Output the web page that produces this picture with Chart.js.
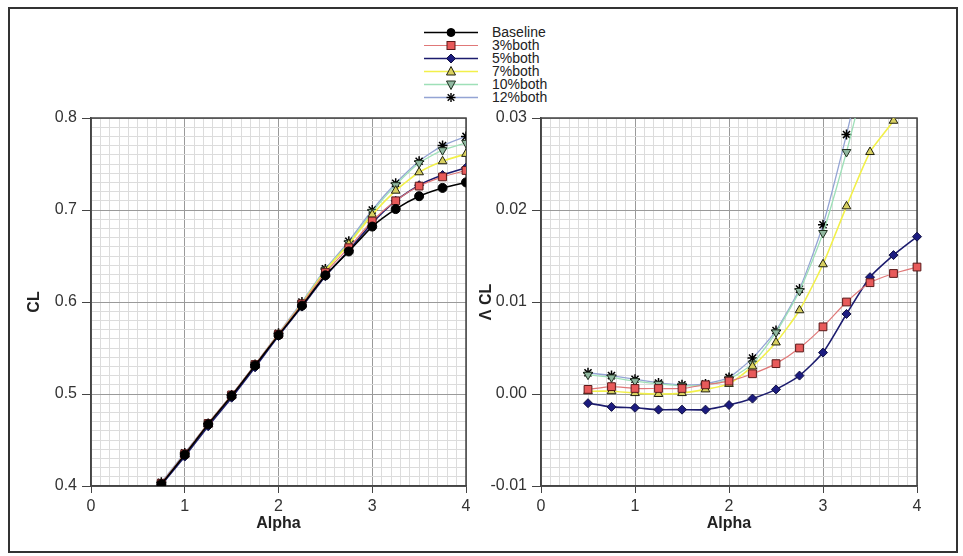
<!DOCTYPE html>
<html>
<head>
<meta charset="utf-8">
<script src="https://cdn.jsdelivr.net/npm/chart.js@4.4.1/dist/chart.umd.min.js"></script>
<style>
  html, body { margin: 0; padding: 0; background: #fff; }
  #page { position: relative; width: 963px; height: 556px; overflow: hidden; font-family: "Liberation Sans", Arial, sans-serif; }
  #frame { position: absolute; left: 8px; top: 7px; width: 946px; height: 542px; border: 2px solid #333; }
  .box { position: absolute; }
  #legend { position: absolute; left: 422px; top: 26px; }
  .row { height: 13px; line-height: 13px; font-size: 14px; color: #222; white-space: nowrap; display: flex; align-items: center; }
  .row svg { flex: none; margin-right: 12px; }
</style>
</head>
<body>
<div id="page">
  <div id="frame"></div>
  <div id="legend"></div>
  <div class="box" style="left:0px; top:90px; width:480px; height:460px;"><canvas id="c1" width="480" height="460"></canvas></div>
  <div class="box" style="left:470px; top:90px; width:460px; height:460px;"><canvas id="c2" width="460" height="460"></canvas></div>
</div>
<script>
// ---------- data ----------
const seriesNames = ["Baseline", "3%both", "5%both", "7%both", "10%both", "12%both"];

const alphaCL  = [0.75, 1.00, 1.25, 1.50, 1.75, 2.00, 2.25, 2.50, 2.75, 3.00, 3.25, 3.50, 3.75, 4.00];
const clBaseline = [0.402, 0.434, 0.467, 0.498, 0.531, 0.564, 0.596, 0.629, 0.655, 0.682, 0.701, 0.715, 0.724, 0.730];
const cl3  = [0.403, 0.435, 0.468, 0.499, 0.532, 0.565, 0.598, 0.632, 0.659, 0.688, 0.710, 0.726, 0.736, 0.743];
const cl5  = [0.401, 0.432, 0.465, 0.496, 0.529, 0.563, 0.595, 0.628, 0.656, 0.686, 0.710, 0.727, 0.738, 0.746];
const cl7  = [0.402, 0.434, 0.467, 0.498, 0.531, 0.565, 0.598, 0.634, 0.663, 0.695, 0.721, 0.741, 0.753, 0.761];
const cl10 = [0.403, 0.435, 0.468, 0.499, 0.532, 0.565, 0.599, 0.635, 0.664, 0.698, 0.727, 0.751, 0.765, 0.773];
const cl12 = [0.404, 0.436, 0.468, 0.499, 0.532, 0.566, 0.600, 0.636, 0.666, 0.700, 0.729, 0.753, 0.770, 0.780];

const alphaDCL = [0.50, 0.75, 1.00, 1.25, 1.50, 1.75, 2.00, 2.25, 2.50, 2.75, 3.00, 3.25, 3.50, 3.75, 4.00];
const dcl3  = [0.0005, 0.0008, 0.0006, 0.0006, 0.0006, 0.0010, 0.0014, 0.0022, 0.0033, 0.0050, 0.0073, 0.0100, 0.0121, 0.0131, 0.0138];
const dcl5  = [-0.0010, -0.0014, -0.0015, -0.0017, -0.0017, -0.0017, -0.0012, -0.0005, 0.0005, 0.0020, 0.0045, 0.0087, 0.0127, 0.0151, 0.0171];
const dcl7  = [0.0003, 0.0003, 0.0001, 0.0000, 0.0001, 0.0005, 0.0011, 0.0030, 0.0056, 0.0091, 0.0141, 0.0204, 0.0263, 0.0297, 0.0340];
const dcl10 = [0.0021, 0.0018, 0.0014, 0.0011, 0.0009, 0.0010, 0.0016, 0.0033, 0.0067, 0.0112, 0.0175, 0.0263, 0.0360, 0.0410, 0.0420];
const dcl12 = [0.0023, 0.0020, 0.0016, 0.0012, 0.0010, 0.0011, 0.0018, 0.0039, 0.0069, 0.0114, 0.0184, 0.0282, 0.0390, 0.0470, 0.0500];

const xTickLabels = ["0", "1", "2", "3", "4"];
const clTickLabels = ["0.4", "0.5", "0.6", "0.7", "0.8"];
const dclTickLabels = ["-0.01", "0.00", "0.01", "0.02", "0.03"];

// ---------- styles ----------
const styles = [
  { line: '#000000', width: 1.6, point: 'circle',   rot: 0,   r: 4.5, fill: '#000000', edge: '#000000' },
  { line: '#e07878', width: 1.2, point: 'rect',     rot: 0,   r: 5.5, fill: '#e85a5a', edge: '#5a1a1a' },
  { line: '#1c1c6e', width: 1.6, point: 'rectRot',  rot: 0,   r: 4.5, fill: '#1c1c80', edge: '#101040' },
  { line: '#f2f04a', width: 1.6, point: 'triangle', rot: 0,   r: 5,   fill: '#d8d060', edge: '#202010' },
  { line: '#9ee0b8', width: 1.3, point: 'triangle', rot: 180, r: 5,   fill: '#90b8a0', edge: '#203020' },
  { line: '#94a4d4', width: 1.3, point: 'star',     rot: 0,   r: 5,   fill: '#000000', edge: '#000000' }
];

const FONT = "'Liberation Sans', Arial, sans-serif";

function ds(label, xs, ys, st, clip) {
  const d = {
    label: label,
    data: xs.map((x, i) => ({ x: x, y: ys[i] })),
    borderColor: st.line,
    borderWidth: st.width,
    pointStyle: st.point,
    pointRotation: st.rot,
    pointRadius: st.r,
    pointBackgroundColor: st.fill,
    pointBorderColor: st.edge,
    pointBorderWidth: st.point === 'star' ? 1.5 : 1,
    tension: 0.2,
    fill: false
  };
  if (clip) d.clip = clip;
  return d;
}

function isMajor(v, step) {
  const k = v / step;
  return Math.abs(k - Math.round(k)) < 1e-6;
}

const framePlugin = {
  id: 'frame',
  beforeDatasetsDraw(chart) {
    const a = chart.chartArea, ctx = chart.ctx;
    ctx.save();
    ctx.strokeStyle = '#444';
    ctx.lineWidth = 1.5;
    ctx.strokeRect(a.left, a.top, a.right - a.left, a.bottom - a.top);
    ctx.restore();
  }
};

function makeOptions(ymin, ymax, ystep, ymajor, yLabels, yTitle, pad, yTitlePad) {
  return {
    responsive: false,
    animation: false,
    layout: { padding: pad },
    plugins: { legend: { display: false }, tooltip: { enabled: false } },
    scales: {
      x: {
        type: 'linear', min: 0, max: 4,
        afterFit: s => { s.height = 47; },
        ticks: {
          stepSize: 0.1, maxTicksLimit: 1000, autoSkip: false, maxRotation: 0, padding: 4,
          color: '#333', font: { family: FONT, size: 16 },
          callback: v => isMajor(v, 1) ? xTickLabels[Math.round(v)] : ''
        },
        grid: {
          color: c => isMajor(c.tick.value, 1) ? '#9a9a9a' : '#dcdcdc',
          lineWidth: 1,
          tickLength: 7,
          tickColor: c => isMajor(c.tick.value, 1) ? '#444' : 'rgba(0,0,0,0)'
        },
        border: { display: true, color: '#444', width: 1.5 },
        title: { display: true, text: 'Alpha', color: '#222', font: { family: FONT, size: 16, weight: 'bold' }, padding: { top: 0, bottom: 0 } }
      },
      y: {
        type: 'linear', min: ymin, max: ymax,
        afterFit: s => { s.width = 71; },
        ticks: {
          stepSize: ystep, maxTicksLimit: 1000, autoSkip: false, padding: 5,
          color: '#333', font: { family: FONT, size: 16 },
          callback: v => {
            if (!isMajor(v, ymajor)) return '';
            const idx = Math.round((v - ymin) / ymajor);
            return yLabels[idx];
          }
        },
        grid: {
          color: c => isMajor(c.tick.value, ymajor) ? '#9a9a9a' : '#dcdcdc',
          lineWidth: 1,
          tickLength: 9,
          tickColor: c => isMajor(c.tick.value, ymajor) ? '#444' : 'rgba(0,0,0,0)'
        },
        border: { display: true, color: '#444', width: 1.5 },
        title: { display: true, text: yTitle, color: '#222', font: { family: FONT, size: 16, weight: 'bold' }, padding: { top: yTitlePad, bottom: 0 } }
      }
    }
  };
}

// ---------- left chart: CL ----------
const clSeries = [clBaseline, cl3, cl5, cl7, cl10, cl12];
new Chart(document.getElementById('c1'), {
  type: 'line',
  data: { datasets: clSeries.map((ys, i) => ds(seriesNames[i], alphaCL, ys, styles[i])) },
  options: makeOptions(0.4, 0.8, 0.01, 0.1, clTickLabels, 'CL', { left: 20, right: 14, top: 28, bottom: 17 }, 5.4),
  plugins: [framePlugin]
});

// ---------- right chart: delta CL ----------
const dclSeries = [dcl3, dcl5, dcl7, dcl10, dcl12];
new Chart(document.getElementById('c2'), {
  type: 'line',
  data: { datasets: dclSeries.map((ys, i) => ds(seriesNames[i + 1], alphaDCL, ys, styles[i + 1], { left: 8, right: 8, top: 0, bottom: 8 })) },
  options: makeOptions(-0.01, 0.03, 0.001, 0.01, dclTickLabels, 'Λ CL', { left: 0, right: 13, top: 28, bottom: 17 }, 7.4),
  plugins: [framePlugin]
});

// ---------- legend (HTML, vertical) ----------
function markerSVG(st) {
  const cx = 29, cy = 6.5;
  let m = '';
  if (st.point === 'circle') m = `<circle cx="${cx}" cy="${cy}" r="4" fill="${st.fill}" stroke="${st.edge}"/>`;
  else if (st.point === 'rect') m = `<rect x="${cx - 4}" y="${cy - 4}" width="8" height="8" fill="${st.fill}" stroke="${st.edge}"/>`;
  else if (st.point === 'rectRot') m = `<polygon points="${cx},${cy - 4.5} ${cx + 4.5},${cy} ${cx},${cy + 4.5} ${cx - 4.5},${cy}" fill="${st.fill}" stroke="${st.edge}"/>`;
  else if (st.point === 'triangle' && st.rot === 0) m = `<polygon points="${cx},${cy - 5} ${cx + 4.5},${cy + 3.5} ${cx - 4.5},${cy + 3.5}" fill="${st.fill}" stroke="${st.edge}"/>`;
  else if (st.point === 'triangle') m = `<polygon points="${cx},${cy + 5} ${cx + 4.5},${cy - 3.5} ${cx - 4.5},${cy - 3.5}" fill="${st.fill}" stroke="${st.edge}"/>`;
  else if (st.point === 'star') m = `<g stroke="#000" stroke-width="1.4"><line x1="${cx - 4.5}" y1="${cy}" x2="${cx + 4.5}" y2="${cy}"/><line x1="${cx}" y1="${cy - 4.5}" x2="${cx}" y2="${cy + 4.5}"/><line x1="${cx - 3.3}" y1="${cy - 3.3}" x2="${cx + 3.3}" y2="${cy + 3.3}"/><line x1="${cx - 3.3}" y1="${cy + 3.3}" x2="${cx + 3.3}" y2="${cy - 3.3}"/></g>`;
  return `<svg width="58" height="13"><line x1="2" y1="${cy}" x2="56" y2="${cy}" stroke="${st.line}" stroke-width="${st.width}"/>${m}</svg>`;
}
const legendEl = document.getElementById('legend');
legendEl.innerHTML = seriesNames.map((n, i) => `<div class="row">${markerSVG(styles[i])}<span>${n}</span></div>`).join('');
</script>
</body>
</html>
